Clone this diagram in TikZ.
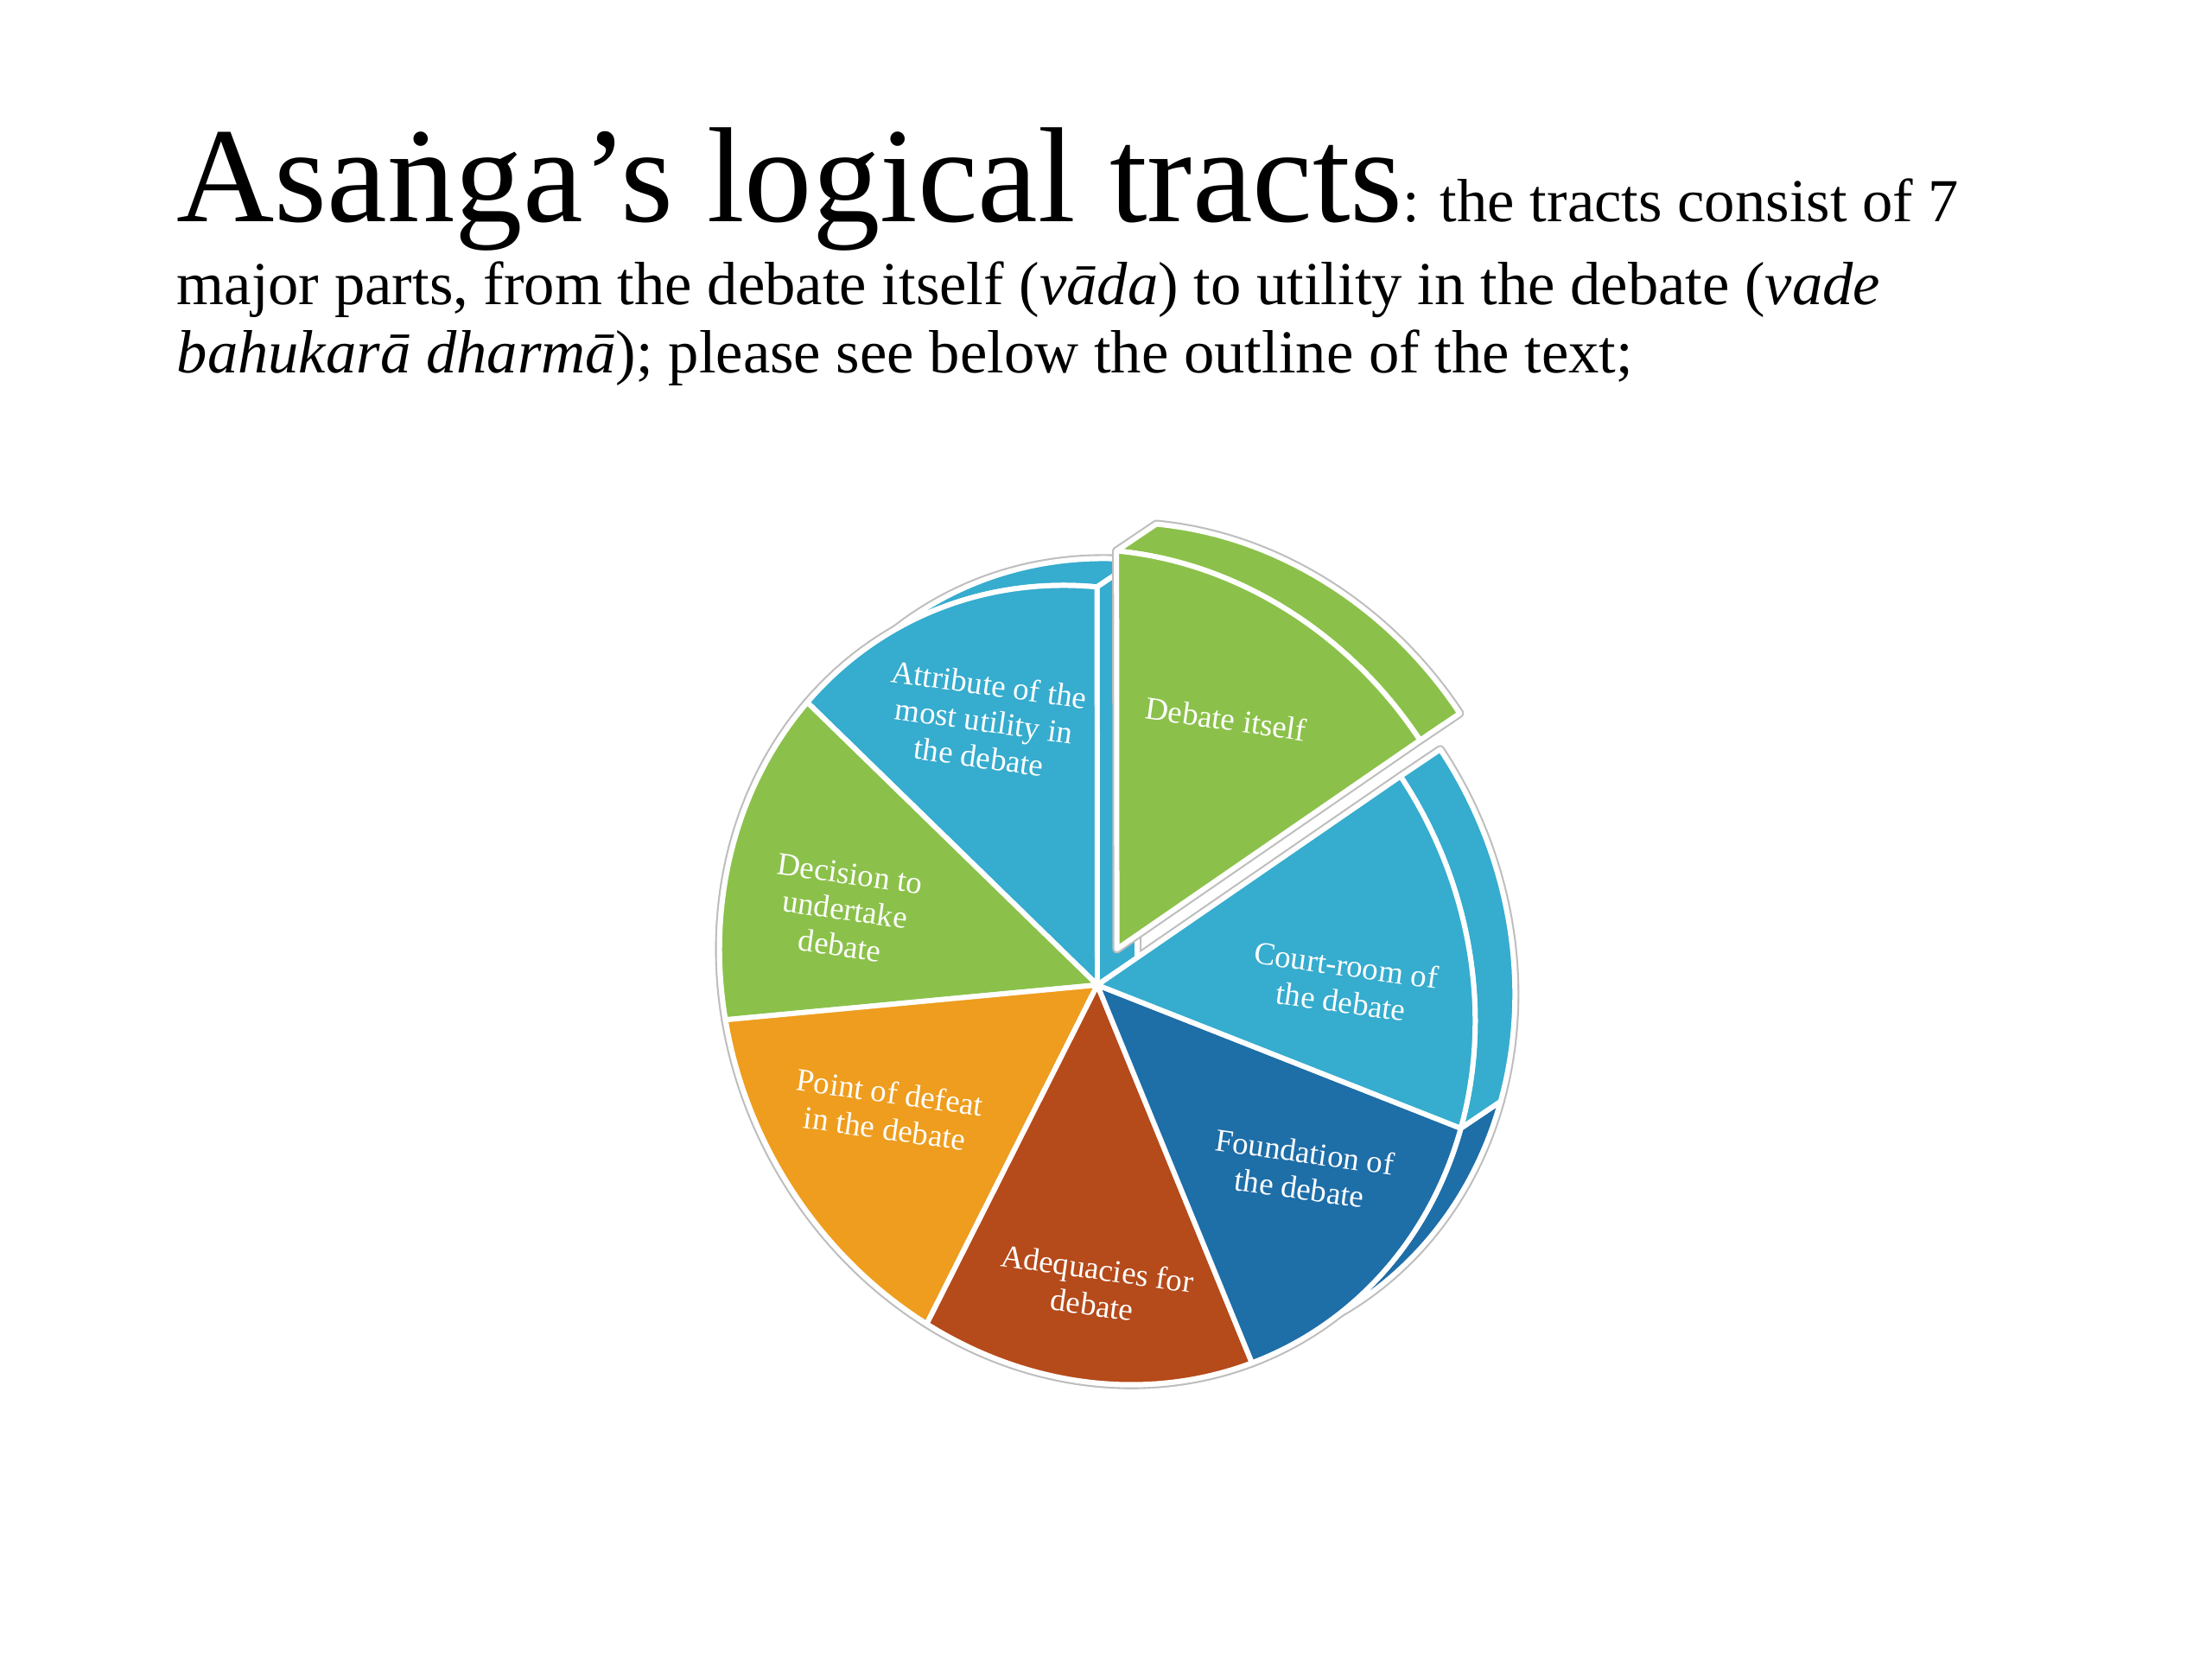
\documentclass[tikz,border=0pt]{standalone}
\usepackage{fontspec}
\setmainfont{Liberation Serif}
\usepackage{tikz}
\definecolor{pgreen}{RGB}{139,193,74}
\definecolor{plblue}{RGB}{54,172,206}
\definecolor{pdblue}{RGB}{30,110,168}
\definecolor{prust}{RGB}{181,74,26}
\definecolor{porange}{RGB}{238,157,30}
\definecolor{pgray}{RGB}{190,190,190}

\begin{document}
\begin{tikzpicture}[
	rim/.style={draw=pgray, line width=2.9pt, line join=round},
	face/.style={draw=white, line width=1.7pt, line join=round},
	lbl/.style={text=white, font=\fontsize{10.5}{12}\selectfont, align=center, rotate=-8, inner sep=0pt}]
			\useasboundingbox (0,0) rectangle (25.6,19.2);
			\fill[white] (0,0) rectangle (25.6,19.2);
			\node[anchor=base west, inner sep=0pt] (title) at (2.04,16.63) {\fontsize{44.6}{48}\selectfont Asaṅga’s logical tracts\fontsize{20.1}{22.5}\selectfont: the tracts consist of 7};
			\node[anchor=base west, inner sep=0pt] (line2) at (2.04,15.67) {\fontsize{20.1}{22.5}\selectfont major parts, from the debate itself (\textit{vāda}) to utility in the debate (\textit{vade}};
			\node[anchor=base west, inner sep=0pt] (line3) at (2.04,14.88) {\fontsize{20.1}{22.5}\selectfont \textit{bahukarā dharmā}); please see below the outline of the text;};
			\begin{scope}[cm={2.2946,-4.1395,3.7223,2.0633,(12.70,7.80)}]
				\foreach \a/\b/\c in {148.4/198.5/plblue, 198.5/248.5/pgreen, 248.5/301.5/porange, 301.5/352.5/prust, 352.5/402.5/pdblue, 402.5/455/plblue}
				{
					\draw[rim] (\a:1) arc[start angle=\a, end angle=\b, radius=1] -- ++(-0.0102,0.1299) arc[start angle=\b, end angle=\a, radius=1] -- cycle;
					\draw[rim] (0,0) -- (\a:1) arc[start angle=\a, end angle=\b, radius=1] -- cycle;
				}
				\draw[rim] (0,0) -- (148.4:1) -- ++(-0.0102,0.1299) -- (-0.0102,0.1299) -- cycle;
				\foreach \a/\b/\c in {148.4/198.5/plblue, 198.5/248.5/pgreen, 248.5/301.5/porange, 301.5/352.5/prust, 352.5/402.5/pdblue, 402.5/455/plblue}
					\draw[face, fill=\c] (\a:1) arc[start angle=\a, end angle=\b, radius=1] -- ++(-0.0102,0.1299) arc[start angle=\b, end angle=\a, radius=1] -- cycle;
				\draw[face, fill=plblue] (0,0) -- (148.4:1) -- ++(-0.0102,0.1299) -- (-0.0102,0.1299) -- cycle;
				\foreach \a/\b/\c in {148.4/198.5/plblue, 198.5/248.5/pgreen, 248.5/301.5/porange, 301.5/352.5/prust, 352.5/402.5/pdblue, 402.5/455/plblue}
					\draw[face, fill=\c] (0,0) -- (\a:1) arc[start angle=\a, end angle=\b, radius=1] -- cycle;
				\coordinate (hub) at (-0.054,0.094);
				\draw[rim] (hub) ++(95:1) arc[start angle=95, end angle=148.4, radius=1] -- ++(-0.0102,0.1299) arc[start angle=148.4, end angle=95, radius=1] -- cycle;
				\draw[rim] (hub) -- ++(95:1) arc[start angle=95, end angle=148.4, radius=1] -- cycle;
				\draw[face, fill=pgreen] (hub) ++(95:1) arc[start angle=95, end angle=148.4, radius=1] -- ++(-0.0102,0.1299) arc[start angle=148.4, end angle=95, radius=1] -- cycle;
				\draw[face, fill=pgreen] (hub) -- ++(95:1) arc[start angle=95, end angle=148.4, radius=1] -- cycle;
			\end{scope}
			\node[lbl] (debate) at (14.19,10.88) {Debate itself};
			\node[lbl] (attribute) at (11.39,10.86) {Attribute of the\\most utility in\\the debate};
			\node[lbl] (decision) at (9.78,8.67) {Decision to\\undertake\\debate};
			\node[lbl] (court) at (15.55,7.82) {Court-room of\\the debate};
			\node[lbl] (foundation) at (15.07,5.66) {Foundation of\\the debate};
			\node[lbl] (point) at (10.27,6.35) {Point of defeat\\in the debate};
			\node[lbl] (adequacies) at (12.67,4.31) {Adequacies for\\debate};
		\end{tikzpicture}
\end{document}
